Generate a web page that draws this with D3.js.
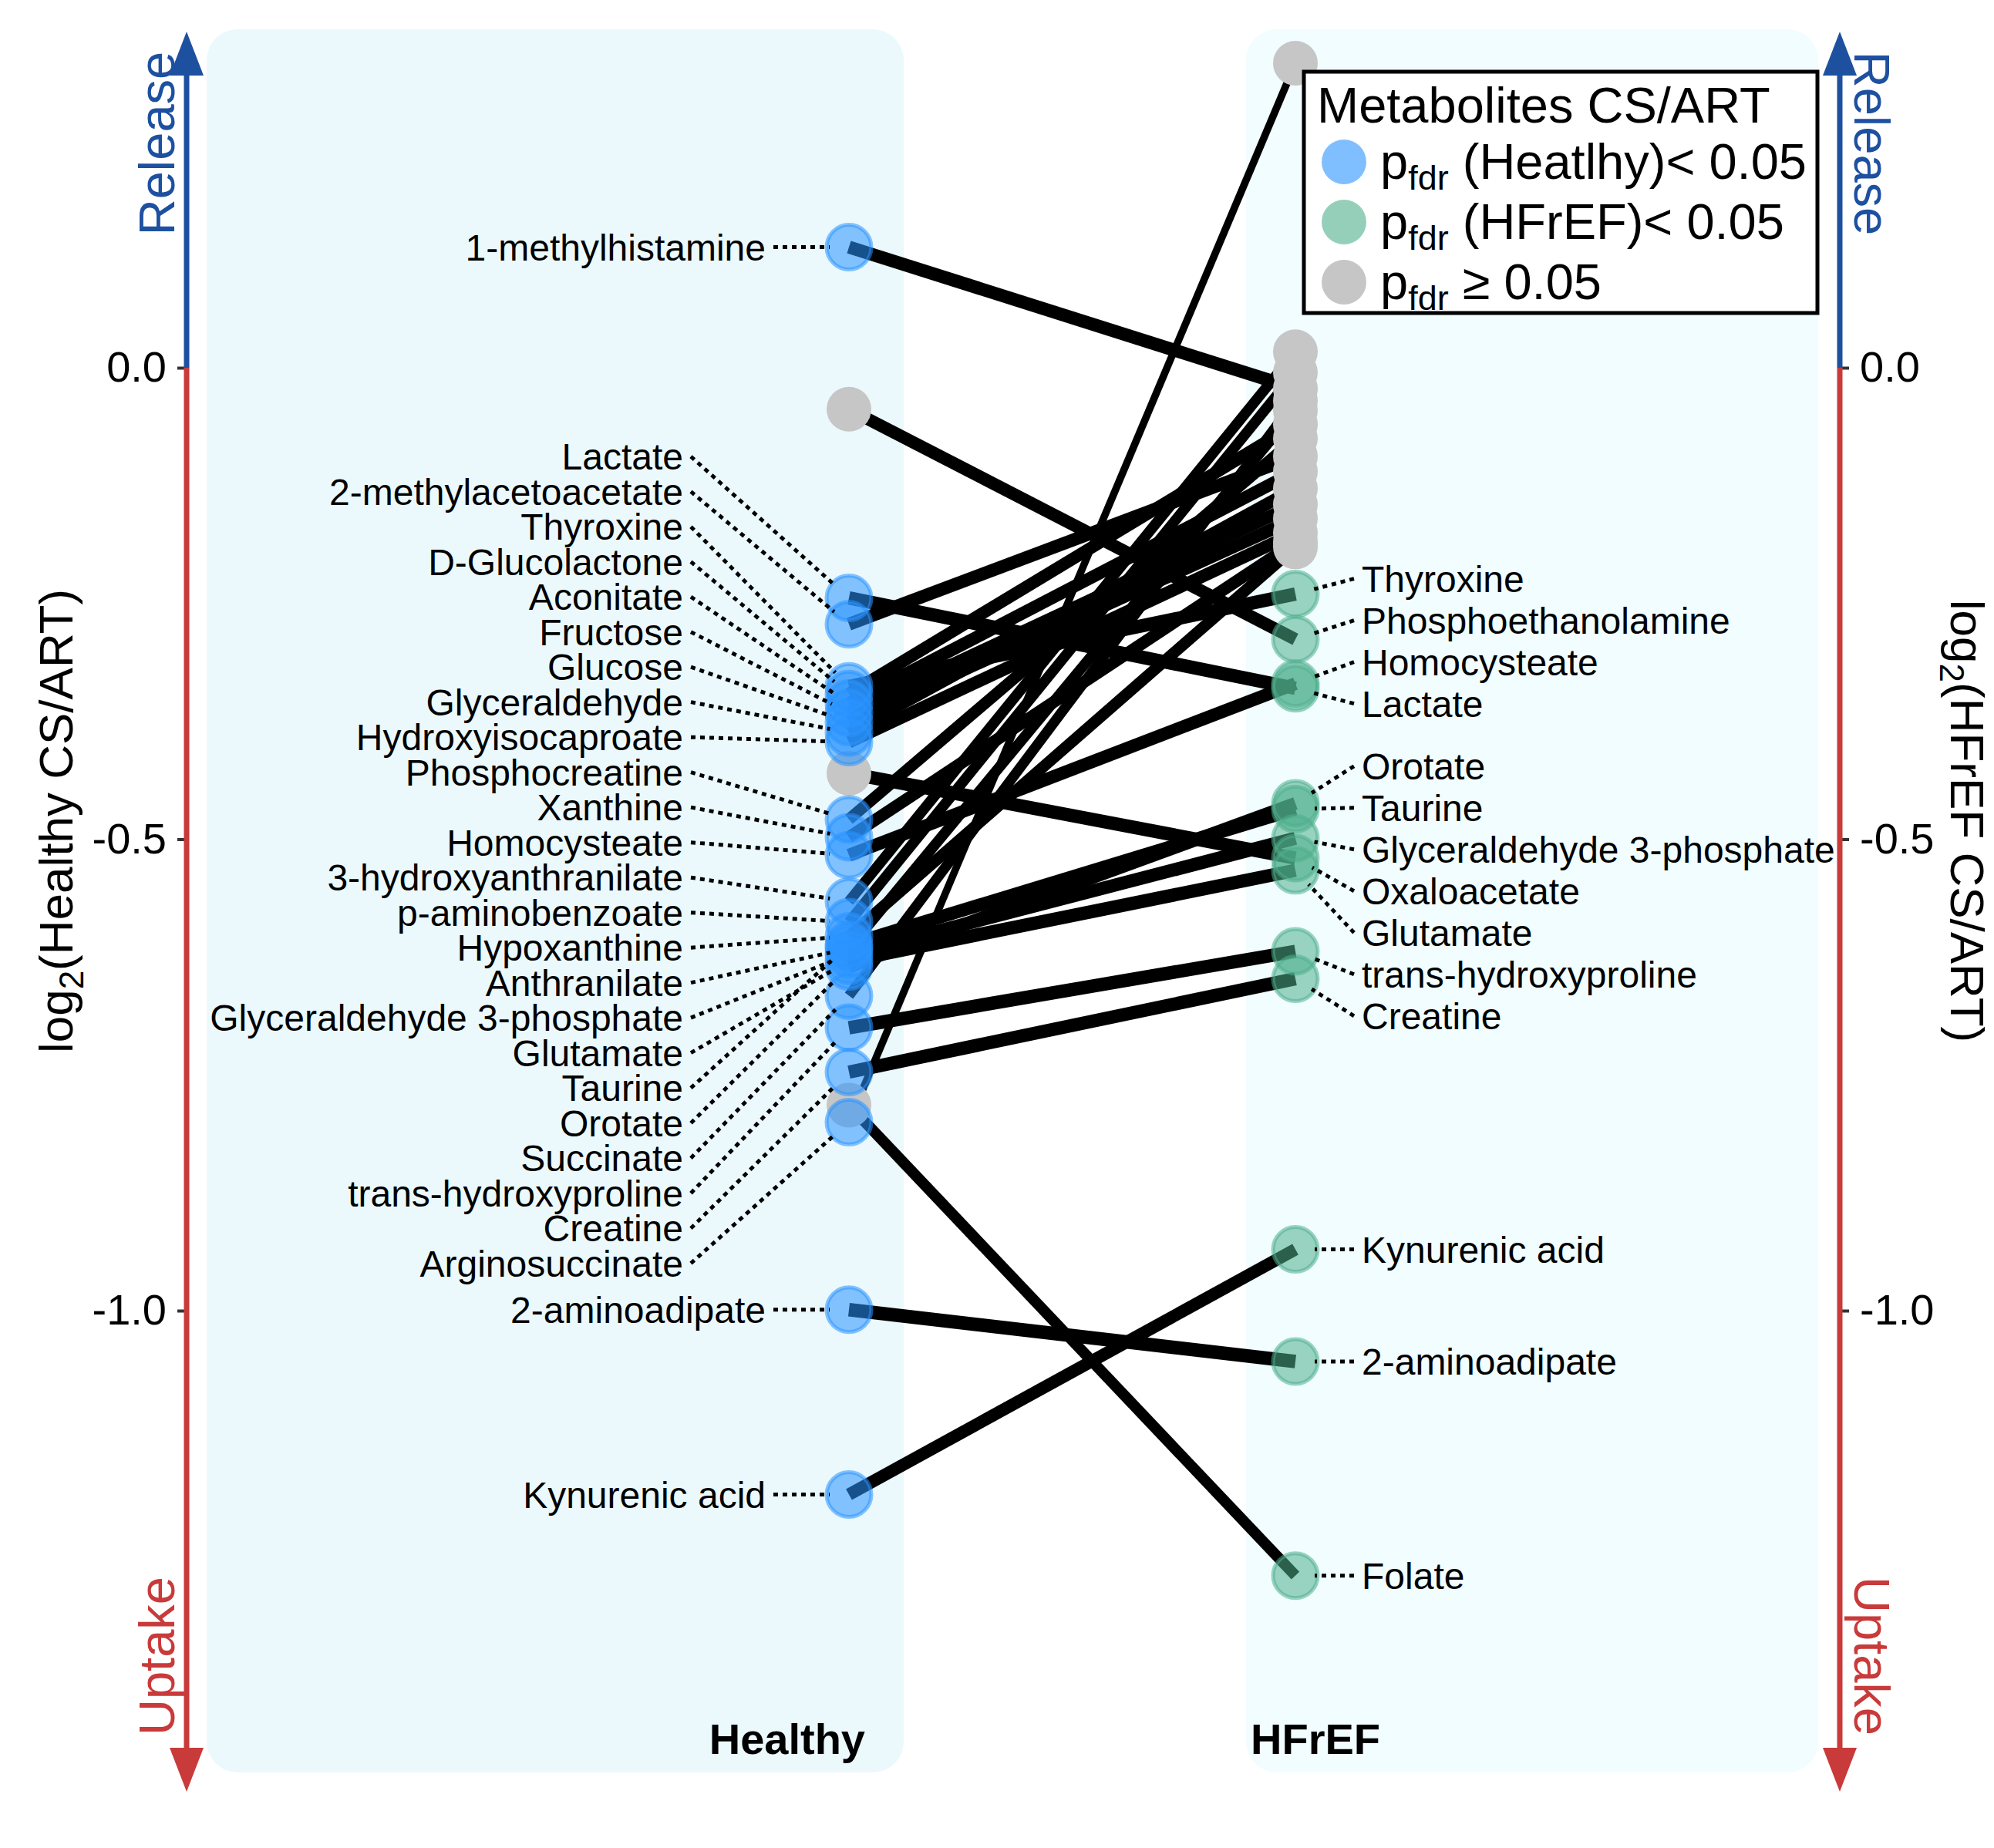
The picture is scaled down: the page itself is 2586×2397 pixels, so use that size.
<!DOCTYPE html>
<html>
<head>
<meta charset="utf-8">
<script src="https://cdn.jsdelivr.net/npm/d3@7"></script>
<style>
  body { margin: 0; background: #fff; }
  text { font-family: "Liberation Sans", Arial, Helvetica, sans-serif; }
</style>
</head>
<body>
<svg id="chart"></svg>
<script>
// metabolites, in the order their labels are stacked on the Healthy side
var metabolites = [
    '1-methylhistamine', 'Lactate', '2-methylacetoacetate', 'Thyroxine', 'D-Glucolactone',
    'Aconitate', 'Fructose', 'Glucose', 'Glyceraldehyde', 'Hydroxyisocaproate',
    'Phosphocreatine', 'Xanthine', 'Homocysteate', '3-hydroxyanthranilate', 'p-aminobenzoate',
    'Hypoxanthine', 'Anthranilate', 'Glyceraldehyde 3-phosphate', 'Glutamate', 'Taurine',
    'Orotate', 'Succinate', 'trans-hydroxyproline', 'Creatine', 'Arginosuccinate',
    '2-aminoadipate', 'Kynurenic acid', 'Phosphoethanolamine', 'Oxaloacetate', 'Folate'
];
// log2(CS/ART)
var healthyValues = [
    0.128, -0.244, -0.272, -0.338, -0.346,
    -0.356, -0.366, -0.376, -0.387, -0.397,
    -0.479, -0.498, -0.517, -0.566, -0.588,
    -0.603, -0.616, -0.622, -0.629, -0.612,
    -0.635, -0.666, -0.700, -0.747, -0.800,
    -0.999, -1.195, -0.044, -0.430, -0.782
];
var hfrefValues = [
    -0.022, -0.340, -0.094, -0.240, -0.060,
    -0.110, -0.145, -0.160, -0.128, -0.175,
    -0.075, -0.185, -0.335, 0.017, -0.005,
    -0.190, -0.045, -0.499, -0.533, -0.468,
    -0.462, -0.035, -0.619, -0.648, 0.323,
    -1.054, -0.935, -0.288, -0.520, -1.281
];
// 1 = p_fdr < 0.05
var sigHealthy = [
    1, 1, 1, 1, 1,  1, 1, 1, 1, 1,  1, 1, 1, 1, 1,
    1, 1, 1, 1, 1,  1, 1, 1, 1, 1,  1, 1, 0, 0, 0
];
var sigHFrEF = [
    0, 1, 0, 1, 0,  0, 0, 0, 0, 0,  0, 0, 1, 0, 0,
    0, 0, 1, 1, 1,  1, 0, 1, 1, 0,  1, 1, 1, 1, 1
];
var groups = ['Healthy', 'HFrEF'];
var yTicks = [0, -0.5, -1.0];
var legendTitle = 'Metabolites CS/ART';
var legendItems = [
    {key: 'healthy', sub: 'fdr', text: ' (Heatlhy)< 0.05'},
    {key: 'hfref', sub: 'fdr', text: ' (HFrEF)< 0.05'},
    {key: 'ns', sub: 'fdr', text: ' \u2265 0.05'}
];

var width = 2586, height = 2397;
var colors = {healthy: '#2a94ff', hfref: '#4faf8c', ns: '#c6c6c6'};
var releaseColor = '#1e50a0', uptakeColor = '#c93a3a';
var pointR = 31;

var svg = d3.select('#chart').attr('width', width).attr('height', height);

var x = d3.scalePoint().domain(groups).range([1101, 1680]);
var y = d3.scaleLinear().domain([0, -1]).range([477, 1700]);

var data = metabolites.map((name, i) => ({
    name: name,
    healthy: healthyValues[i],
    hfref: hfrefValues[i],
    sigH: sigHealthy[i] == 1,
    sigF: sigHFrEF[i] == 1
}));

//panels
svg.append('rect').attr('x', 268).attr('y', 38).attr('width', 904).attr('height', 2261)
    .attr('rx', 40).attr('fill', '#ebf9fd');
svg.append('rect').attr('x', 1616).attr('y', 38).attr('width', 742).attr('height', 2261)
    .attr('rx', 40).attr('fill', '#f1fdff');

//axes with release / uptake arrows
function drawAxis(xPos, side)
{
    var axis = (side == 'left' ? d3.axisLeft(y) : d3.axisRight(y))
        .tickValues(yTicks)
        .tickSize(12)
        .tickPadding(14)
        .tickFormat(d => d3.format('.1f')(d).replace('\u2212', '-'));
    var g = svg.append('g').attr('transform', 'translate(' + xPos + ',0)').call(axis);
    g.select('.domain').remove();
    g.selectAll('.tick line').attr('stroke', '#333').attr('stroke-width', 4);
    g.selectAll('.tick text').attr('fill', '#000').style('font-size', '56px')
        .style('font-family', '"Liberation Sans", Arial, sans-serif');

    var y0 = y(0);
    var top = 41, bottom = 2324, headLen = 57, headW = 22;
    svg.append('line').attr('x1', xPos).attr('x2', xPos).attr('y1', y0).attr('y2', top + headLen - 2)
        .attr('stroke', releaseColor).attr('stroke-width', 7);
    svg.append('path')
        .attr('d', `M${xPos},${top} L${xPos - headW},${top + headLen} L${xPos + headW},${top + headLen} Z`)
        .attr('fill', releaseColor);
    svg.append('line').attr('x1', xPos).attr('x2', xPos).attr('y1', y0).attr('y2', bottom - headLen + 2)
        .attr('stroke', uptakeColor).attr('stroke-width', 7);
    svg.append('path')
        .attr('d', `M${xPos},${bottom} L${xPos - headW},${bottom - headLen} L${xPos + headW},${bottom - headLen} Z`)
        .attr('fill', uptakeColor);

    var rot = side == 'left' ? -90 : 90;
    var tx = side == 'left' ? xPos - 16 : xPos + 19;
    svg.append('text').attr('transform', `translate(${tx},186) rotate(${rot})`)
        .attr('text-anchor', 'middle').attr('fill', releaseColor).style('font-size', '65px').text('Release');
    svg.append('text').attr('transform', `translate(${tx},2148) rotate(${rot})`)
        .attr('text-anchor', 'middle').attr('fill', uptakeColor).style('font-size', '65px').text('Uptake');
}
drawAxis(242, 'left');
drawAxis(2386, 'right');

//axis titles
function axisTitle(tx, rot, group)
{
    var t = svg.append('text').attr('transform', `translate(${tx},1065) rotate(${rot})`)
        .attr('text-anchor', 'middle').style('font-size', '62px').attr('fill', '#000');
    t.append('tspan').text('log');
    t.append('tspan').attr('dy', 14).style('font-size', '44px').text('2');
    t.append('tspan').attr('dy', -14).text('(' + group + ' CS/ART)');
}
axisTitle(94, -90, 'Healthy');
axisTitle(2530, 90, 'HFrEF');

//group labels
svg.append('text').attr('x', x('Healthy') + 21).attr('y', 2275).attr('text-anchor', 'end')
    .style('font-size', '56px').style('font-weight', 'bold').text('Healthy');
svg.append('text').attr('x', x('HFrEF') - 58).attr('y', 2275).attr('text-anchor', 'start')
    .style('font-size', '56px').style('font-weight', 'bold').text('HFrEF');

//connecting lines
var widthScale = d3.scaleLinear().domain([0, 1.2]).range([18, 9]);
svg.append('g').selectAll('line').data(data).enter().append('line')
    .attr('x1', x('Healthy')).attr('y1', d => y(d.healthy))
    .attr('x2', x('HFrEF')).attr('y2', d => y(d.hfref))
    .attr('stroke', '#000')
    .attr('stroke-width', d => widthScale(Math.abs(d.hfref - d.healthy)));

//points
var points = [];
data.forEach(d =>
{
    points.push({group: 'Healthy', value: d.healthy, cls: d.sigH ? 'healthy' : 'ns'});
    points.push({group: 'HFrEF', value: d.hfref, cls: d.sigF ? 'hfref' : 'ns'});
});
points.sort((a, b) => (a.cls == 'ns' ? 0 : 1) - (b.cls == 'ns' ? 0 : 1));
svg.append('g').selectAll('circle').data(points).enter().append('circle')
    .attr('cx', d => x(d.group)).attr('cy', d => y(d.value)).attr('r', pointR - 2)
    .attr('fill', d => colors[d.cls])
    .attr('fill-opacity', d => d.cls == 'ns' ? 1 : 0.55)
    .attr('stroke', d => d.cls == 'ns' ? 'none' : colors[d.cls])
    .attr('stroke-opacity', 0.55)
    .attr('stroke-width', 5);

//label layout: stack overlapping labels evenly around their targets
function layoutLabels(items, spacing)
{
    var gs = items.map(d => ({members: [d], lo: d.target, hi: d.target}));
    function place(g)
    {
        var c = (g.lo + g.hi) / 2, n = g.members.length;
        g.top = c - (n - 1) / 2 * spacing;
        g.bottom = c + (n - 1) / 2 * spacing;
        g.members.forEach((m, i) => { m.y = g.top + i * spacing; m.alone = n == 1; });
    }
    gs.forEach(place);
    var merged = true;
    while(merged)
    {
        merged = false;
        for(let i = 1; i < gs.length; ++i)
        {
            if(gs[i].top - gs[i - 1].bottom < spacing)
            {
                var a = gs[i - 1], b = gs[i];
                var g = {members: a.members.concat(b.members), lo: Math.min(a.lo, b.lo), hi: Math.max(a.hi, b.hi)};
                place(g);
                gs.splice(i - 1, 2, g);
                merged = true;
                break;
            }
        }
    }
    return items;
}

var leftLabels = layoutLabels(data.filter(d => d.sigH).map(d => ({name: d.name, target: y(d.healthy)})), 45.5);
var rightLabels = layoutLabels(data.filter(d => d.sigF).sort((a, b) => b.hfref - a.hfref)
    .map(d => ({name: d.name, target: y(d.hfref)})), 54);

function edgePoint(cx, cy, tx, ty)
{
    var dx = tx - cx, dy = ty - cy, len = Math.sqrt(dx * dx + dy * dy) || 1;
    return [cx + dx / len * (pointR - 6), cy + dy / len * (pointR - 6)];
}

var labelLayer = svg.append('g');
leftLabels.forEach(l =>
{
    var cx = x('Healthy');
    var endX = l.alone ? cx - 108 : cx - 215;
    var p = edgePoint(cx, l.target, endX + 10, l.y);
    labelLayer.append('line').attr('x1', endX + 10).attr('y1', l.y).attr('x2', p[0]).attr('y2', p[1])
        .attr('stroke', '#000').attr('stroke-width', 5).attr('stroke-dasharray', '6,6');
    labelLayer.append('text').attr('x', endX).attr('y', l.y).attr('dy', '0.36em')
        .attr('text-anchor', 'end').style('font-size', '48px').text(l.name);
});
rightLabels.forEach(l =>
{
    var cx = x('HFrEF');
    var startX = cx + 86;
    var p = edgePoint(cx, l.target, startX - 10, l.y);
    labelLayer.append('line').attr('x1', startX - 10).attr('y1', l.y).attr('x2', p[0]).attr('y2', p[1])
        .attr('stroke', '#000').attr('stroke-width', 5).attr('stroke-dasharray', '6,6');
    labelLayer.append('text').attr('x', startX).attr('y', l.y).attr('dy', '0.36em')
        .attr('text-anchor', 'start').style('font-size', '48px').text(l.name);
});

//legend
var legend = svg.append('g');
legend.append('rect').attr('x', 1691).attr('y', 93).attr('width', 666).attr('height', 313)
    .attr('fill', '#fff').attr('stroke', '#000').attr('stroke-width', 5);
legend.append('text').attr('x', 1708).attr('y', 159).style('font-size', '65px').text(legendTitle);
legendItems.forEach((item, i) =>
{
    var cy = 210 + i * 78;
    legend.append('circle').attr('cx', 1743).attr('cy', cy).attr('r', 29)
        .attr('fill', colors[item.key]).attr('fill-opacity', item.key == 'ns' ? 1 : 0.6);
    var t = legend.append('text').attr('x', 1790).attr('y', cy + 22).style('font-size', '65px');
    t.append('tspan').text('p');
    t.append('tspan').attr('dy', 14).style('font-size', '45px').text(item.sub);
    t.append('tspan').attr('dy', -14).text(item.text);
});
</script>
</body>
</html>
